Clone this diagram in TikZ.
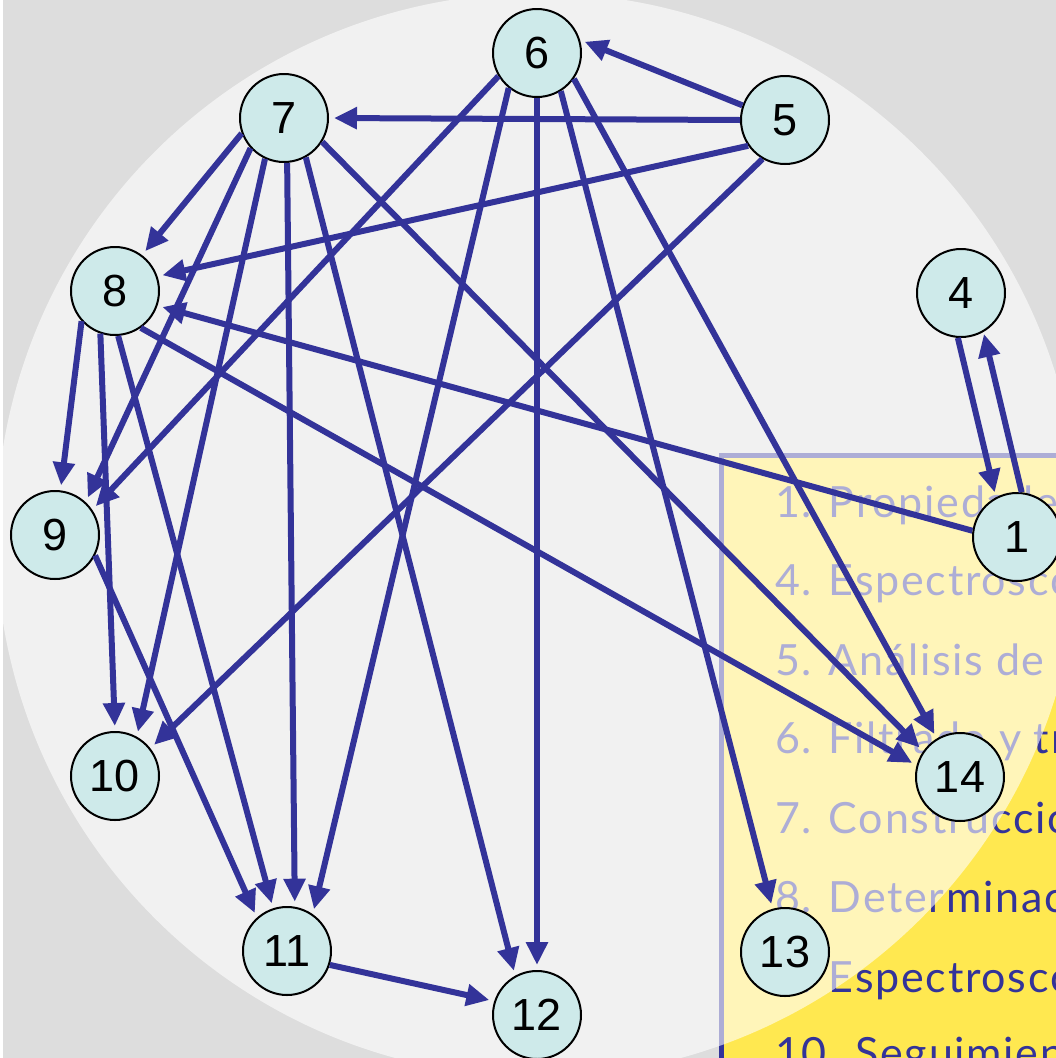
\documentclass[tikz,border=0pt]{standalone}
\usepackage{fontspec}
\setmainfont{Liberation Sans}
\newfontfamily\boxfont[LetterSpace=4]{Lato}
\usetikzlibrary{arrows.meta}
\definecolor{bg}{RGB}{221,221,221}
\definecolor{edgeblue}{RGB}{51,51,153}
\definecolor{nodefill}{RGB}{206,234,234}
\definecolor{boxyellow}{RGB}{255,232,80}
\begin{document}
\begin{tikzpicture}[x=1pt,y=-1pt,
  vert/.style={circle,draw=black,line width=2pt,fill=nodefill,minimum size=88pt,inner sep=0pt,font=\fontsize{45}{45}\selectfont},
  link/.style={draw=edgeblue,line width=6pt,-{Triangle[length=23pt,width=21pt]},shorten >=5pt},
  item/.style={anchor=base west,text=edgeblue,font=\boxfont\fontsize{43}{43}\selectfont,inner sep=0pt}]
\useasboundingbox (0,0) rectangle (1056,1058);
\clip (0,0) rectangle (1056,1058);
\fill[bg] (0,0) rectangle (1056,1058);
\fill[white] (0,0) rectangle (3,1058);
\filldraw[fill=boxyellow,draw=edgeblue,line width=5pt] (721,455) rectangle (1090,1090);
\node[item] (t1) at (775,517) {1. Propiedades};
\node[item] (t4) at (775,595) {4. Espectroscopía};
\node[item] (t5) at (775,675) {5. Análisis de m};
\node[item] (t6) at (775,753) {6. Filtrado y tratamiento};
\node[item] (t7) at (775,833) {7. Construcción};
\node[item] (t8) at (775,912) {8. Determinación};
\node[item] (t9) at (775,992) {9. Espectroscopía};
\node[item] (t10) at (775,1068) {10. Seguimiento};
\fill[white,opacity=0.6] (538,535) circle[radius=542];
\node[vert] (n6) at (537,53) {6};
\node[vert] (n5) at (785,120) {5};
\node[vert] (n7) at (284,118) {7};
\node[vert] (n8) at (115,291) {8};
\node[vert] (n4) at (961,293) {4};
\node[vert] (n9) at (55,535) {9};
\node[vert] (n1) at (1017,537) {1};
\node[vert] (n10) at (115,776) {10};
\node[vert] (n14) at (960,777) {14};
\node[vert] (n11) at (287,951) {11};
\node[vert] (n13) at (785,952) {13};
\node[vert] (n12) at (537,1015) {12};
\draw[link] (n5.161) -- (n6.17);
\draw[link] (n5.180) -- (n7.0);
\draw[link] (n5.215) -- (n8.19);
\draw[link] (n5.240) -- (n10.38);
\draw[link] (n6.211) -- (n9.34);
\draw[link] (n6.231) -- (n11.55);
\draw[link] (n6.270) -- (n12.90);
\draw[link] (n6.-58) -- (n13.106);
\draw[link] (n6.-35) -- (n14.121);
\draw[link] (n7.200) -- (n8.53);
\draw[link] (n7.222) -- (n9.47);
\draw[link] (n7.245) -- (n10.61);
\draw[link] (n7.-86) -- (n11.80);
\draw[link] (n7.-61) -- (n12.119);
\draw[link] (n7.-32) -- (n14.145);
\draw[link] (n8.-138) -- (n9.83);
\draw[link] (n8.-109) -- (n10.90);
\draw[link] (n8.-86) -- (n11.108);
\draw[link] (n8.-55) -- (n14.165);
\draw[link] (n1.172) -- (n8.-19);
\draw[link] (n9.-27) -- (n11.132);
\draw[link] (n11.-18) -- (n12.162);
\draw[link] (n4.-94) -- (n1.118);
\draw[link,shorten >=2pt] (n1.84) -- (n4.-60);
\end{tikzpicture}
\end{document}
